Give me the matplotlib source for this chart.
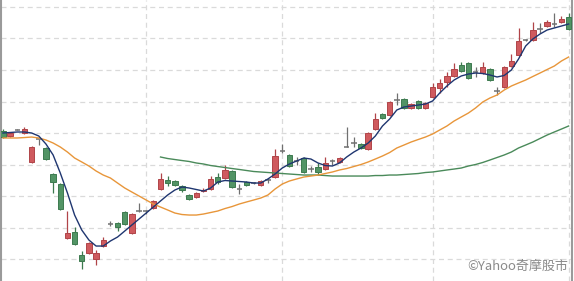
import matplotlib.pyplot as plt
import numpy as np

# daily candles
opens = [120.32, 119.52, 120.55, 120.00, 115.40, 119.05, 117.62, 113.49, 111.90, 103.33,
         104.28, 100.63, 100.95, 100.00, 102.06, 105.55, 105.71, 107.46, 104.13, 107.62,
         107.62, 108.09, 111.11, 112.54, 112.38, 111.59, 110.16, 109.84, 110.79, 111.11,
         113.01, 112.86, 113.97, 111.11, 112.22, 112.06, 111.74, 112.54, 113.01, 117.14,
         116.51, 115.55, 116.03, 114.28, 114.60, 114.28, 115.63, 115.40, 117.78, 118.41,
         118.25, 117.46, 120.63, 123.01, 122.86, 125.24, 125.40, 123.97, 125.08, 123.97,
         125.71, 127.14, 128.09, 129.05, 130.79, 131.11, 129.68, 129.52, 130.16, 126.67,
         127.30, 130.63, 132.38, 134.76, 134.76, 136.51, 136.98, 137.30, 137.62, 138.41]
highs = [120.63, 120.16, 120.63, 120.95, 117.94, 119.10, 117.78, 113.65, 112.06, 107.62,
         105.08, 101.27, 102.70, 101.43, 103.49, 106.03, 105.87, 107.62, 107.30, 108.89,
         107.78, 109.36, 113.65, 113.17, 112.54, 111.74, 110.32, 110.63, 111.27, 113.17,
         113.65, 114.92, 114.13, 111.90, 112.38, 112.22, 112.54, 112.86, 117.46, 118.25,
         116.67, 116.19, 116.19, 114.76, 115.24, 116.19, 115.87, 116.19, 120.95, 119.36,
         118.41, 120.16, 123.17, 123.17, 125.08, 126.35, 125.55, 124.76, 125.24, 124.92,
         127.94, 128.57, 129.68, 131.11, 131.27, 131.27, 130.48, 131.27, 130.32, 127.30,
         130.63, 132.54, 136.67, 134.92, 137.62, 137.46, 137.94, 139.05, 138.57, 139.05]
lows = [119.21, 119.36, 120.40, 119.84, 115.24, 118.09, 115.71, 110.48, 107.78, 103.17,
        102.22, 98.41, 100.79, 99.05, 101.90, 105.24, 104.44, 105.40, 103.97, 107.46,
        107.14, 107.94, 110.95, 111.59, 111.59, 110.63, 109.36, 109.68, 110.63, 110.95,
        111.90, 112.70, 111.27, 110.32, 111.59, 111.90, 111.59, 112.06, 112.86, 116.82,
        114.60, 114.92, 113.65, 113.81, 113.33, 114.13, 114.92, 115.24, 117.70, 117.78,
        117.46, 117.30, 120.48, 122.22, 122.70, 124.44, 123.81, 123.81, 123.81, 123.81,
        125.55, 126.35, 127.30, 128.89, 129.68, 128.57, 128.89, 129.36, 128.25, 126.03,
        127.14, 130.48, 132.22, 134.60, 134.60, 135.87, 136.82, 136.82, 137.46, 136.35]
closes = [119.36, 120.00, 120.55, 120.63, 117.78, 119.05, 115.87, 112.22, 107.94, 104.13,
          102.38, 99.68, 102.54, 100.95, 103.01, 105.55, 105.08, 105.55, 107.14, 107.62,
          107.62, 109.21, 112.70, 112.06, 111.74, 110.95, 109.52, 110.48, 110.95, 112.70,
          112.22, 114.13, 111.43, 111.11, 111.74, 112.06, 112.38, 112.54, 116.35, 117.14,
          114.76, 115.55, 113.81, 114.28, 113.81, 115.24, 115.63, 116.03, 117.78, 118.41,
          117.62, 120.00, 122.22, 122.38, 124.92, 125.24, 123.97, 124.60, 123.97, 124.76,
          127.30, 127.94, 129.05, 130.16, 129.84, 128.73, 129.68, 130.48, 128.41, 126.67,
          130.48, 131.43, 134.60, 134.76, 136.35, 136.51, 137.62, 137.30, 138.09, 136.51]

# moving averages as drawn
ma5 = [120.00, 120.08, 120.16, 120.16, 120.00, 119.52, 118.25, 116.51, 113.65, 110.48,
       106.98, 104.60, 103.01, 102.06, 102.06, 102.86, 103.49, 104.44, 105.40, 106.35,
       107.30, 108.25, 109.21, 110.16, 110.95, 111.43, 111.27, 111.03, 110.79, 111.27,
       112.22, 112.46, 112.38, 112.30, 112.22, 112.06, 112.06, 112.70, 113.49, 114.44,
       115.08, 115.55, 116.03, 115.87, 115.24, 114.84, 114.76, 115.24, 116.19, 116.98,
       117.62, 118.41, 119.52, 121.11, 122.22, 123.65, 124.13, 124.28, 124.44, 124.60,
       125.08, 126.35, 127.46, 128.41, 129.05, 129.36, 129.52, 129.44, 129.21, 128.89,
       129.13, 130.00, 131.74, 133.81, 134.92, 135.71, 136.35, 136.67, 136.98, 137.30]
ma20 = [119.21, 119.21, 119.21, 119.28, 119.36, 119.21, 118.89, 118.41, 117.78, 116.98,
        116.03, 115.40, 114.76, 113.97, 113.33, 112.86, 112.06, 111.27, 110.63, 110.00,
        109.36, 108.73, 108.25, 107.78, 107.30, 107.06, 106.98, 106.98, 107.14, 107.38,
        107.62, 108.01, 108.33, 108.73, 109.05, 109.36, 109.68, 110.16, 111.11, 111.90,
        112.38, 112.70, 113.01, 113.17, 113.33, 113.57, 113.81, 114.13, 114.36, 114.68,
        115.00, 115.40, 115.87, 116.35, 116.90, 117.62, 118.09, 118.57, 118.97, 119.36,
        119.84, 120.48, 121.11, 121.90, 122.54, 123.17, 123.97, 124.92, 125.55, 126.03,
        126.82, 127.46, 127.94, 128.41, 128.97, 129.52, 130.08, 130.63, 131.43, 132.06]
ma60 = [np.nan] * 22 + [
        116.19, 115.95, 115.79, 115.63, 115.48, 115.24, 115.08, 114.84,
        114.68, 114.52, 114.36, 114.21, 114.05, 113.89, 113.81, 113.73, 113.65, 113.57,
        113.49, 113.41, 113.33, 113.33, 113.33, 113.25, 113.17, 113.17, 113.17, 113.17,
        113.17, 113.17, 113.25, 113.25, 113.33, 113.33, 113.41, 113.49, 113.57, 113.73,
        113.81, 113.97, 114.13, 114.28, 114.44, 114.76, 115.00, 115.32, 115.71, 116.11,
        116.51, 116.98, 117.62, 118.09, 118.57, 119.13, 119.68, 120.16, 120.63, 121.11]
month_starts = [20, 39, 60, 79]

o = np.array(opens)
h = np.array(highs)
l = np.array(lows)
c = np.array(closes)
x = np.arange(len(o))

up_face, up_edge = '#cf5a5e', '#b04448'
dn_face, dn_edge = '#529465', '#3d7a4f'
flat = '#707070'

fig = plt.figure(figsize=(5.74, 2.81), dpi=100)
ax = fig.add_axes([1 / 574, 0, 571 / 574, 1])

ax.set_yticks(np.arange(100, 141, 5))
ax.set_xticks(month_starts)
ax.grid(True, color='#dadada', linestyle=(0, (4, 3)), linewidth=0.9)
ax.set_axisbelow(True)

up = c > o
dn = c < o
eq = c == o

wick_col = np.where(up, up_edge, np.where(dn, dn_edge, flat))
ax.vlines(x, l, h, colors=wick_col, linewidth=0.9, zorder=2)
ax.bar(x[up], c[up] - o[up], bottom=o[up], width=0.75,
       color=up_face, edgecolor=up_edge, linewidth=0.7, zorder=3)
ax.bar(x[dn], c[dn] - o[dn], bottom=o[dn], width=0.75,
       color=dn_face, edgecolor=dn_edge, linewidth=0.7, zorder=3)
ax.hlines(c[eq], x[eq] - 0.38, x[eq] + 0.38, colors=flat, linewidth=1.1, zorder=3)

ax.plot(x, ma60, color='#4a8a5a', linewidth=1.0, zorder=4)
ax.plot(x, ma20, color='#e8963a', linewidth=1.0, zorder=4)
ax.plot(x, ma5, color='#1f3670', linewidth=1.0, zorder=5)

ax.set_xlim(-0.28, 79.47)
ax.set_ylim(96.51, 141.11)
ax.tick_params(length=0, labelleft=False, labelbottom=False)
for side in ['top', 'bottom']:
    ax.spines[side].set_visible(False)
for side in ['left', 'right']:
    ax.spines[side].set_color('#9a9a9a')
    ax.spines[side].set_linewidth(1.5)

ax.text(0.9935, 0.03, '©Yahoo奇摩股市', transform=ax.transAxes, ha='right', va='bottom',
        fontsize=9.4, color='#8a8a8a', family=['Noto Sans CJK TC', 'DejaVu Sans'])

plt.savefig('out.png', dpi=100)
